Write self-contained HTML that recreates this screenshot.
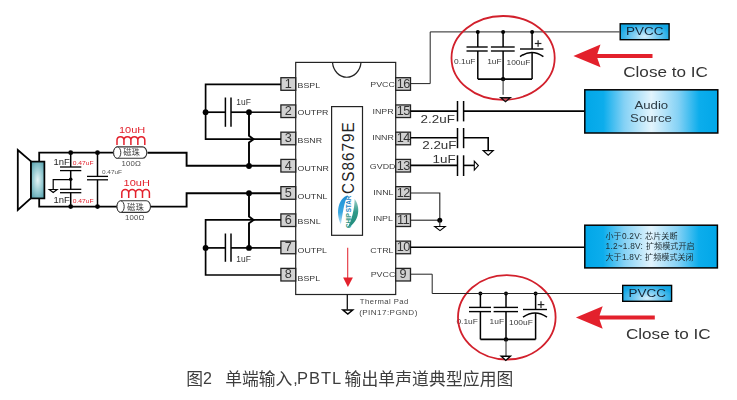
<!DOCTYPE html>
<html><head><meta charset="utf-8"><title>CS8679E</title>
<style>html,body{margin:0;padding:0;background:#fff;}body{width:737px;height:400px;overflow:hidden;font-family:"Liberation Sans",sans-serif;}svg{display:block}</style>
</head><body>
<svg width="737" height="400" viewBox="0 0 737 400">
<defs>
<linearGradient id="gb" x1="0" x2="1" y1="0" y2="0">
<stop offset="0" stop-color="#00a7e8"/><stop offset="0.14" stop-color="#0badec"/><stop offset="0.3" stop-color="#86d2f5"/><stop offset="0.5" stop-color="#e2f4fd"/><stop offset="0.7" stop-color="#86d2f5"/><stop offset="0.86" stop-color="#0badec"/><stop offset="1" stop-color="#00a7e8"/>
</linearGradient>
<radialGradient id="gp" cx="0.5" cy="0.8" r="0.62" gradientTransform="translate(0.5,0.8) scale(1,1.6) translate(-0.5,-0.8)">
<stop offset="0" stop-color="#d4eefb"/><stop offset="0.45" stop-color="#6fc8f0"/><stop offset="0.85" stop-color="#16a8e5"/><stop offset="1" stop-color="#10a5e3"/>
</radialGradient>
<linearGradient id="gs" x1="0" x2="1" y1="0" y2="0">
<stop offset="0" stop-color="#4f9fa8"/><stop offset="0.5" stop-color="#b5dde2"/><stop offset="1" stop-color="#4f9fa8"/>
</linearGradient>
<radialGradient id="gsr" cx="0.5" cy="0.5" r="0.75" gradientTransform="translate(0.5,0.5) scale(1,0.9) translate(-0.5,-0.5)">
<stop offset="0" stop-color="#e4f4f6"/><stop offset="0.55" stop-color="#8cc4cc"/><stop offset="1" stop-color="#4696a3"/>
</radialGradient>
</defs>
<rect width="737" height="400" fill="#fff"/>
<g opacity="0.996">

<rect x="295.7" y="62.4" width="100.0" height="232.1" fill="#fff" stroke="#222" stroke-width="1.2"/>
<path d="M332.5 62.4 A14.3 16.2 0 0 0 361 62.4" fill="none" stroke="#222" stroke-width="1.2"/>
<rect x="331.6" y="106.6" width="30.9" height="128.7" fill="#fff" stroke="#222" stroke-width="1.2"/>
<text transform="translate(354.1,193.9) rotate(-90) scale(0.92,1)" x="0" y="0" font-size="16.5" font-family="Liberation Sans, sans-serif" fill="#222" text-anchor="start" letter-spacing="1.2">CS8679E</text>
<defs><linearGradient id="lgb" x1="0" x2="0" y1="0" y2="1"><stop offset="0" stop-color="#1c8fd6"/><stop offset="0.6" stop-color="#3aa8e0"/><stop offset="1" stop-color="#bfe3f5"/></linearGradient>
<linearGradient id="lgg" x1="0" x2="0" y1="0" y2="1"><stop offset="0" stop-color="#9fd0c8"/><stop offset="0.45" stop-color="#2f9a8a"/><stop offset="1" stop-color="#1f8a7a"/></linearGradient></defs>
<path d="M347.8 195.2 C338.6 198 335.2 212 340.8 224.3 C342.6 215.5 343.6 203 347.8 195.2Z" fill="url(#lgb)"/>
<path d="M354.6 199 C360.6 206 360 222 347.6 227.8 C351.6 220.5 354.6 209 354.6 199Z" fill="url(#lgg)"/>
<g transform="translate(350.7,228) rotate(-90) scale(0.79,1)"><text x="0" y="0" font-size="8" font-weight="bold" font-family="Liberation Sans, sans-serif" fill="#2f9686" text-anchor="start">CHIP</text><text x="19.83" y="0" font-size="8" font-weight="bold" font-family="Liberation Sans, sans-serif" fill="#2486c4" text-anchor="start">STAR</text></g>
<line x1="347.7" y1="247.8" x2="347.7" y2="279" stroke="#e3303a" stroke-width="1.1"/>
<polygon points="343.1,277.5 352.9,277.5 347.9,287" fill="#e3202b"/>
<rect x="280.90" y="77.70" width="14.8" height="12.6" fill="#d2d2d2" stroke="#222" stroke-width="1.3"/>
<text transform="translate(288.30,87.80) scale(1.06,1)" font-size="12.0" font-family="Liberation Sans, sans-serif" fill="#333" text-anchor="middle" >1</text>
<text transform="translate(297.60,88.40) scale(1.1,1)" font-size="8.0" font-family="Liberation Sans, sans-serif" fill="#333" text-anchor="start" >BSPL</text>
<rect x="395.7" y="77.70" width="14.8" height="12.6" fill="#d2d2d2" stroke="#222" stroke-width="1.3"/>
<text transform="translate(403.20,87.80) scale(1.06,1)" font-size="12.0" font-family="Liberation Sans, sans-serif" fill="#333" text-anchor="middle" letter-spacing="-0.5" >16</text>
<text transform="translate(394.90,86.80) scale(1.11,1)" font-size="8.0" font-family="Liberation Sans, sans-serif" fill="#3c3c3c" text-anchor="end" >PVCC</text>
<rect x="280.90" y="104.94" width="14.8" height="12.6" fill="#d2d2d2" stroke="#222" stroke-width="1.3"/>
<text transform="translate(288.30,115.04) scale(1.06,1)" font-size="12.0" font-family="Liberation Sans, sans-serif" fill="#333" text-anchor="middle" >2</text>
<text transform="translate(297.60,114.94) scale(1.1,1)" font-size="8.0" font-family="Liberation Sans, sans-serif" fill="#333" text-anchor="start" >OUTPR</text>
<rect x="395.7" y="104.94" width="14.8" height="12.6" fill="#d2d2d2" stroke="#222" stroke-width="1.3"/>
<text transform="translate(403.20,115.04) scale(1.06,1)" font-size="12.0" font-family="Liberation Sans, sans-serif" fill="#333" text-anchor="middle" letter-spacing="-0.5" >15</text>
<text transform="translate(393.70,114.14) scale(1.11,1)" font-size="8.0" font-family="Liberation Sans, sans-serif" fill="#3c3c3c" text-anchor="end" >INPR</text>
<rect x="280.90" y="132.18" width="14.8" height="12.6" fill="#d2d2d2" stroke="#222" stroke-width="1.3"/>
<text transform="translate(288.30,142.28) scale(1.06,1)" font-size="12.0" font-family="Liberation Sans, sans-serif" fill="#333" text-anchor="middle" >3</text>
<text transform="translate(297.60,143.28) scale(1.1,1)" font-size="8.0" font-family="Liberation Sans, sans-serif" fill="#333" text-anchor="start" >BSNR</text>
<rect x="395.7" y="132.18" width="14.8" height="12.6" fill="#d2d2d2" stroke="#222" stroke-width="1.3"/>
<text transform="translate(403.20,142.28) scale(1.06,1)" font-size="12.0" font-family="Liberation Sans, sans-serif" fill="#333" text-anchor="middle" letter-spacing="-0.5" >14</text>
<text transform="translate(393.90,140.13) scale(1.11,1)" font-size="8.0" font-family="Liberation Sans, sans-serif" fill="#3c3c3c" text-anchor="end" >INNR</text>
<rect x="280.90" y="159.42" width="14.8" height="12.6" fill="#d2d2d2" stroke="#222" stroke-width="1.3"/>
<text transform="translate(288.30,169.52) scale(1.06,1)" font-size="12.0" font-family="Liberation Sans, sans-serif" fill="#333" text-anchor="middle" >4</text>
<text transform="translate(297.60,170.92) scale(1.1,1)" font-size="8.0" font-family="Liberation Sans, sans-serif" fill="#333" text-anchor="start" >OUTNR</text>
<rect x="395.7" y="159.42" width="14.8" height="12.6" fill="#d2d2d2" stroke="#222" stroke-width="1.3"/>
<text transform="translate(403.20,169.52) scale(1.06,1)" font-size="12.0" font-family="Liberation Sans, sans-serif" fill="#333" text-anchor="middle" letter-spacing="-0.5" >13</text>
<text transform="translate(395.50,168.72) scale(1.11,1)" font-size="8.0" font-family="Liberation Sans, sans-serif" fill="#3c3c3c" text-anchor="end" >GVDD</text>
<rect x="280.90" y="186.66" width="14.8" height="12.6" fill="#d2d2d2" stroke="#222" stroke-width="1.3"/>
<text transform="translate(288.30,196.76) scale(1.06,1)" font-size="12.0" font-family="Liberation Sans, sans-serif" fill="#333" text-anchor="middle" >5</text>
<text transform="translate(297.60,198.86) scale(1.1,1)" font-size="8.0" font-family="Liberation Sans, sans-serif" fill="#333" text-anchor="start" >OUTNL</text>
<rect x="395.7" y="186.66" width="14.8" height="12.6" fill="#d2d2d2" stroke="#222" stroke-width="1.3"/>
<text transform="translate(403.20,196.76) scale(1.06,1)" font-size="12.0" font-family="Liberation Sans, sans-serif" fill="#333" text-anchor="middle" letter-spacing="-0.5" >12</text>
<text transform="translate(393.50,195.06) scale(1.11,1)" font-size="8.0" font-family="Liberation Sans, sans-serif" fill="#3c3c3c" text-anchor="end" >INNL</text>
<rect x="280.90" y="213.90" width="14.8" height="12.6" fill="#d2d2d2" stroke="#222" stroke-width="1.3"/>
<text transform="translate(288.30,224.00) scale(1.06,1)" font-size="12.0" font-family="Liberation Sans, sans-serif" fill="#333" text-anchor="middle" >6</text>
<text transform="translate(297.60,224.05) scale(1.1,1)" font-size="8.0" font-family="Liberation Sans, sans-serif" fill="#333" text-anchor="start" >BSNL</text>
<rect x="395.7" y="213.90" width="14.8" height="12.6" fill="#d2d2d2" stroke="#222" stroke-width="1.3"/>
<text transform="translate(403.20,224.00) scale(1.06,1)" font-size="12.0" font-family="Liberation Sans, sans-serif" fill="#333" text-anchor="middle" letter-spacing="-0.5" >11</text>
<text transform="translate(392.90,221.00) scale(1.11,1)" font-size="8.0" font-family="Liberation Sans, sans-serif" fill="#3c3c3c" text-anchor="end" >INPL</text>
<rect x="280.90" y="241.14" width="14.8" height="12.6" fill="#d2d2d2" stroke="#222" stroke-width="1.3"/>
<text transform="translate(288.30,251.24) scale(1.06,1)" font-size="12.0" font-family="Liberation Sans, sans-serif" fill="#333" text-anchor="middle" >7</text>
<text transform="translate(297.60,252.54) scale(1.1,1)" font-size="8.0" font-family="Liberation Sans, sans-serif" fill="#333" text-anchor="start" >OUTPL</text>
<rect x="395.7" y="241.14" width="14.8" height="12.6" fill="#d2d2d2" stroke="#222" stroke-width="1.3"/>
<text transform="translate(403.20,251.24) scale(1.06,1)" font-size="12.0" font-family="Liberation Sans, sans-serif" fill="#333" text-anchor="middle" letter-spacing="-0.5" >10</text>
<text transform="translate(393.50,252.64) scale(1.11,1)" font-size="8.0" font-family="Liberation Sans, sans-serif" fill="#3c3c3c" text-anchor="end" >CTRL</text>
<rect x="280.90" y="268.38" width="14.8" height="12.6" fill="#d2d2d2" stroke="#222" stroke-width="1.3"/>
<text transform="translate(288.30,278.48) scale(1.06,1)" font-size="12.0" font-family="Liberation Sans, sans-serif" fill="#333" text-anchor="middle" >8</text>
<text transform="translate(297.60,280.78) scale(1.1,1)" font-size="8.0" font-family="Liberation Sans, sans-serif" fill="#333" text-anchor="start" >BSPL</text>
<rect x="395.7" y="268.38" width="14.8" height="12.6" fill="#d2d2d2" stroke="#222" stroke-width="1.3"/>
<text transform="translate(403.10,278.48) scale(1.06,1)" font-size="12.0" font-family="Liberation Sans, sans-serif" fill="#333" text-anchor="middle" >9</text>
<text transform="translate(395.30,276.68) scale(1.11,1)" font-size="8.0" font-family="Liberation Sans, sans-serif" fill="#3c3c3c" text-anchor="end" >PVCC</text>
<line x1="347.3" y1="294.4" x2="347.3" y2="309.6" stroke="#111" stroke-width="1.3"/>
<polygon points="342.9,310 352.7,310 347.8,314.1" fill="#fff" stroke="#000" stroke-width="1.5"/>
<text x="359.8" y="304.3" font-size="7.7" font-family="Liberation Sans, sans-serif" fill="#444" text-anchor="start" letter-spacing="0.45" >Thermal Pad</text>
<text x="359.2" y="315.3" font-size="8.1" font-family="Liberation Sans, sans-serif" fill="#444" text-anchor="start" letter-spacing="0.42" >(PIN17:PGND)</text>
<polyline points="280.9,84.4 205.6,84.4 205.6,139.2 280.9,139.2" fill="none" stroke="#000" stroke-width="1.7" stroke-linejoin="miter"/>
<line x1="205.6" y1="112.2" x2="225.4" y2="112.2" stroke="#000" stroke-width="1.7"/>
<line x1="231" y1="112.2" x2="249" y2="112.2" stroke="#000" stroke-width="1.7"/>
<line x1="249" y1="112.2" x2="280.9" y2="112.2" stroke="#000" stroke-width="1.5"/>
<line x1="225.4" y1="97.5" x2="225.4" y2="126.8" stroke="#000" stroke-width="1.5"/>
<line x1="231" y1="97.5" x2="231" y2="126.8" stroke="#000" stroke-width="1.5"/>
<circle cx="205.6" cy="112.2" r="2.9" fill="#000"/>
<circle cx="249" cy="112.2" r="2.9" fill="#000"/>
<path d="M249 112.2 V135.8 L253.6 139.2 L249 142.6 V166" fill="none" stroke="#000" stroke-width="1.9"/>
<circle cx="249" cy="166" r="2.9" fill="#000"/>
<text x="236.3" y="105.2" font-size="8.4" font-family="Liberation Sans, sans-serif" fill="#333" text-anchor="start" >1uF</text>
<polyline points="147.5,152.7 186.6,152.7 186.6,165.8 280.9,165.8" fill="none" stroke="#000" stroke-width="1.9" stroke-linejoin="miter"/>
<polyline points="151,206.6 186.6,206.6 186.6,193.3 280.9,193.3" fill="none" stroke="#000" stroke-width="1.9" stroke-linejoin="miter"/>
<circle cx="249" cy="193.2" r="2.9" fill="#000"/>
<path d="M249 193.2 V216.5 L253.6 219.9 L249 223.3 V247.9" fill="none" stroke="#000" stroke-width="1.9"/>
<circle cx="249" cy="247.9" r="2.9" fill="#000"/>
<polyline points="280.9,219.9 205.6,219.9 205.6,275 280.9,275" fill="none" stroke="#000" stroke-width="1.7" stroke-linejoin="miter"/>
<line x1="205.6" y1="247.9" x2="225.4" y2="247.9" stroke="#000" stroke-width="1.7"/>
<line x1="231" y1="247.9" x2="249" y2="247.9" stroke="#000" stroke-width="1.7"/>
<line x1="249" y1="247.9" x2="280.9" y2="247.9" stroke="#000" stroke-width="1.7"/>
<line x1="225.4" y1="233.5" x2="225.4" y2="261.8" stroke="#000" stroke-width="1.5"/>
<line x1="231" y1="233.5" x2="231" y2="261.8" stroke="#000" stroke-width="1.5"/>
<circle cx="205.6" cy="247.9" r="2.9" fill="#000"/>
<text x="236.3" y="261.8" font-size="8.4" font-family="Liberation Sans, sans-serif" fill="#333" text-anchor="start" >1uF</text>
<polygon points="17.8,150 31,161.3 31,198.2 17.8,210" fill="#fff" stroke="#000" stroke-width="1.8"/>
<rect x="31" y="161.6" width="13.4" height="36.8" fill="url(#gsr)" stroke="#000" stroke-width="1.7"/>
<polyline points="39.2,161.6 39.2,152.7 113.6,152.7" fill="none" stroke="#000" stroke-width="1.8" stroke-linejoin="miter"/>
<polyline points="39.2,198.4 39.2,206.6 117,206.6" fill="none" stroke="#000" stroke-width="1.8" stroke-linejoin="miter"/>
<line x1="70.7" y1="152.7" x2="70.7" y2="167" stroke="#000" stroke-width="1.5"/>
<line x1="70.7" y1="170.6" x2="70.7" y2="189.3" stroke="#000" stroke-width="1.5"/>
<line x1="70.7" y1="192.7" x2="70.7" y2="206.6" stroke="#000" stroke-width="1.5"/>
<line x1="60" y1="167" x2="81.3" y2="167" stroke="#000" stroke-width="1.3"/>
<line x1="60" y1="170.6" x2="81.3" y2="170.6" stroke="#000" stroke-width="1.3"/>
<line x1="60" y1="189.3" x2="81.3" y2="189.3" stroke="#000" stroke-width="1.3"/>
<line x1="60" y1="192.7" x2="81.3" y2="192.7" stroke="#000" stroke-width="1.3"/>
<circle cx="70.7" cy="152.7" r="2.4" fill="#000"/>
<circle cx="70.7" cy="206.6" r="2.4" fill="#000"/>
<circle cx="70.7" cy="179.3" r="1.8" fill="#000"/>
<polyline points="70.7,179.7 53.2,179.7 53.2,189.4" fill="none" stroke="#000" stroke-width="1.2" stroke-linejoin="miter"/>
<polygon points="49.3,189.5 57.1,189.5 53.2,192.5" fill="#fff" stroke="#000" stroke-width="1.2"/>
<line x1="97.5" y1="152.7" x2="97.5" y2="176.4" stroke="#000" stroke-width="1.5"/>
<line x1="97.5" y1="179.8" x2="97.5" y2="206.6" stroke="#000" stroke-width="1.5"/>
<line x1="87" y1="176.4" x2="108" y2="176.4" stroke="#000" stroke-width="1.3"/>
<line x1="87" y1="179.8" x2="108" y2="179.8" stroke="#000" stroke-width="1.3"/>
<circle cx="97.5" cy="152.7" r="2.4" fill="#000"/>
<circle cx="97.5" cy="206.6" r="2.4" fill="#000"/>
<text transform="translate(53.6,164.8) scale(1.1,1)" font-size="8.6" font-family="Liberation Sans, sans-serif" fill="#222" text-anchor="start" >1nF</text>
<text transform="translate(53.6,202.7) scale(1.1,1)" font-size="8.6" font-family="Liberation Sans, sans-serif" fill="#222" text-anchor="start" >1nF</text>
<text transform="translate(72.7,165.0) scale(1.12,1)" font-size="6.0" font-family="Liberation Sans, sans-serif" fill="#e3202b" text-anchor="start" >0.47uF</text>
<text transform="translate(72.7,202.9) scale(1.12,1)" font-size="6.0" font-family="Liberation Sans, sans-serif" fill="#e3202b" text-anchor="start" >0.47uF</text>
<text transform="translate(101.9,174.2) scale(1.08,1)" font-size="6.0" font-family="Liberation Sans, sans-serif" fill="#555" text-anchor="start" >0.47uF</text>
<rect x="113.6" y="146.9" width="33.20000000000002" height="11.4" rx="4.275" ry="5.7" fill="#fff" stroke="#333" stroke-width="1.1"/>
<ellipse cx="117.19999999999999" cy="152.6" rx="3.6" ry="5.7" fill="#fff" stroke="#333" stroke-width="1.0"/>
<rect x="117" y="200.79999999999998" width="33.5" height="11.6" rx="4.35" ry="5.8" fill="#fff" stroke="#333" stroke-width="1.1"/>
<ellipse cx="120.6" cy="206.6" rx="3.6" ry="5.8" fill="#fff" stroke="#333" stroke-width="1.0"/>
<text x="123.3" y="155.4" font-size="8.3" font-family="Liberation Sans, Noto Sans CJK SC, sans-serif" fill="#444" text-anchor="start">磁珠</text>
<text x="127.1" y="209.5" font-size="8.3" font-family="Liberation Sans, Noto Sans CJK SC, sans-serif" fill="#444" text-anchor="start">磁珠</text>
<text transform="translate(121.5,166.1) scale(1.1,1)" font-size="7.1" font-family="Liberation Sans, sans-serif" fill="#4a4a4a" text-anchor="start" letter-spacing="0.15" >100Ω</text>
<text transform="translate(125.0,219.9) scale(1.1,1)" font-size="7.1" font-family="Liberation Sans, sans-serif" fill="#4a4a4a" text-anchor="start" letter-spacing="0.15" >100Ω</text>
<text transform="translate(119.0,133.0) scale(1.17,1)" font-size="9.4" font-family="Liberation Sans, sans-serif" fill="#e3202b" text-anchor="start" >10uH</text>
<text transform="translate(123.6,185.9) scale(1.17,1)" font-size="9.4" font-family="Liberation Sans, sans-serif" fill="#e3202b" text-anchor="start" >10uH</text>
<path d="M117.00 145.1 V139.97 A3.48 3.48 0 0 1 123.95 139.97 V145.1M123.95 145.1 V139.97 A3.48 3.48 0 0 1 130.90 139.97 V145.1M130.90 145.1 V139.97 A3.48 3.48 0 0 1 137.85 139.97 V145.1M137.85 145.1 V139.97 A3.48 3.48 0 0 1 144.80 139.97 V145.1" fill="none" stroke="#e3202b" stroke-width="1.5"/>
<path d="M121.80 198.0 V192.85 A3.45 3.45 0 0 1 128.70 192.85 V198.0M128.70 198.0 V192.85 A3.45 3.45 0 0 1 135.60 192.85 V198.0M135.60 198.0 V192.85 A3.45 3.45 0 0 1 142.50 192.85 V198.0M142.50 198.0 V192.85 A3.45 3.45 0 0 1 149.40 192.85 V198.0" fill="none" stroke="#e3202b" stroke-width="1.5"/>
<polyline points="410.5,83.6 430.2,83.6 430.2,31.9 619.5,31.9" fill="none" stroke="#222" stroke-width="1.0" stroke-linejoin="miter"/>
<line x1="477.8" y1="31.9" x2="477.8" y2="47" stroke="#000" stroke-width="1.5"/>
<line x1="477.8" y1="51" x2="477.8" y2="79.1" stroke="#000" stroke-width="1.5"/>
<line x1="503.1" y1="31.9" x2="503.1" y2="47" stroke="#000" stroke-width="1.5"/>
<line x1="503.1" y1="51" x2="503.1" y2="79.1" stroke="#000" stroke-width="1.5"/>
<line x1="532.1" y1="31.9" x2="532.1" y2="49.0" stroke="#000" stroke-width="1.5"/>
<line x1="532.1" y1="52.6" x2="532.1" y2="79.1" stroke="#000" stroke-width="1.5"/>
<line x1="466.5" y1="47" x2="487.7" y2="47" stroke="#000" stroke-width="1.4"/>
<line x1="466.5" y1="51" x2="487.7" y2="51" stroke="#000" stroke-width="1.4"/>
<line x1="490.9" y1="47" x2="514.7" y2="47" stroke="#000" stroke-width="1.4"/>
<line x1="490.9" y1="51" x2="514.7" y2="51" stroke="#000" stroke-width="1.4"/>
<line x1="520" y1="49.0" x2="543.4" y2="49.0" stroke="#000" stroke-width="1.4"/>
<path d="M520 56.60 Q531.7 48.40 543.4 56.60" fill="none" stroke="#000" stroke-width="1.4"/>
<line x1="477.8" y1="79.1" x2="532.1" y2="79.1" stroke="#000" stroke-width="1.6"/>
<circle cx="477.8" cy="31.9" r="2.0" fill="#000"/>
<circle cx="503.1" cy="31.9" r="2.0" fill="#000"/>
<circle cx="532.1" cy="31.9" r="2.0" fill="#000"/>
<circle cx="503.1" cy="79.1" r="2.2" fill="#000"/>
<line x1="503.1" y1="79.1" x2="503.1" y2="94.8" stroke="#222" stroke-width="1.0"/>
<text transform="translate(454,63.7) scale(1.08,1)" font-size="7.8" font-family="Liberation Sans, sans-serif" fill="#383838" text-anchor="start" >0.1uF</text>
<text transform="translate(487.2,63.7) scale(1.08,1)" font-size="7.8" font-family="Liberation Sans, sans-serif" fill="#383838" text-anchor="start" >1uF</text>
<text transform="translate(506.5,64.7) scale(1.08,1)" font-size="7.8" font-family="Liberation Sans, sans-serif" fill="#383838" text-anchor="start" >100uF</text>
<line x1="534.8000000000001" y1="43.5" x2="541.4" y2="43.5" stroke="#222" stroke-width="1.2"/>
<line x1="538.1" y1="40.2" x2="538.1" y2="46.8" stroke="#222" stroke-width="1.2"/>
<ellipse cx="503.1" cy="57.9" rx="51.6" ry="41.9" fill="none" stroke="#d21f2b" stroke-width="1.8"/>
<polygon points="500.8,97.7 510.2,97.7 505.5,101.7" fill="#d8505e" stroke="#111" stroke-width="1.4"/>
<line x1="480.4" y1="293.4" x2="480.4" y2="307.4" stroke="#000" stroke-width="1.5"/>
<line x1="480.4" y1="311.6" x2="480.4" y2="339.4" stroke="#000" stroke-width="1.5"/>
<line x1="506" y1="293.4" x2="506" y2="307.4" stroke="#000" stroke-width="1.5"/>
<line x1="506" y1="311.6" x2="506" y2="339.4" stroke="#000" stroke-width="1.5"/>
<line x1="535.6" y1="293.4" x2="535.6" y2="309.5" stroke="#000" stroke-width="1.5"/>
<line x1="535.6" y1="313.1" x2="535.6" y2="339.4" stroke="#000" stroke-width="1.5"/>
<line x1="469" y1="307.4" x2="491" y2="307.4" stroke="#000" stroke-width="1.4"/>
<line x1="469" y1="311.6" x2="491" y2="311.6" stroke="#000" stroke-width="1.4"/>
<line x1="493.6" y1="307.4" x2="518" y2="307.4" stroke="#000" stroke-width="1.4"/>
<line x1="493.6" y1="311.6" x2="518" y2="311.6" stroke="#000" stroke-width="1.4"/>
<line x1="523" y1="309.5" x2="547" y2="309.5" stroke="#000" stroke-width="1.4"/>
<path d="M523 317.10 Q535.0 308.90 547 317.10" fill="none" stroke="#000" stroke-width="1.4"/>
<line x1="480.4" y1="339.4" x2="535.6" y2="339.4" stroke="#000" stroke-width="1.6"/>
<circle cx="480.4" cy="293.4" r="2.0" fill="#000"/>
<circle cx="506" cy="293.4" r="2.0" fill="#000"/>
<circle cx="535.6" cy="293.4" r="2.0" fill="#000"/>
<circle cx="506" cy="339.4" r="2.2" fill="#000"/>
<line x1="506" y1="339.4" x2="506" y2="356" stroke="#222" stroke-width="1.0"/>
<text transform="translate(456.4,324) scale(1.08,1)" font-size="7.8" font-family="Liberation Sans, sans-serif" fill="#383838" text-anchor="start" >0.1uF</text>
<text transform="translate(489.6,324) scale(1.08,1)" font-size="7.8" font-family="Liberation Sans, sans-serif" fill="#383838" text-anchor="start" >1uF</text>
<text transform="translate(509,325) scale(1.08,1)" font-size="7.8" font-family="Liberation Sans, sans-serif" fill="#383838" text-anchor="start" >100uF</text>
<line x1="537.7" y1="304.6" x2="544.3" y2="304.6" stroke="#222" stroke-width="1.2"/>
<line x1="541" y1="301.3" x2="541" y2="307.90000000000003" stroke="#222" stroke-width="1.2"/>
<ellipse cx="506.8" cy="317.3" rx="48.8" ry="42.2" fill="none" stroke="#d21f2b" stroke-width="1.8"/>
<polygon points="501.2,356.3 510.4,356.3 505.8,360.4" fill="#fff" stroke="#000" stroke-width="1.4"/>
<polyline points="410.5,274.2 432.2,274.2 432.2,293.5 622,293.5" fill="none" stroke="#222" stroke-width="1.0" stroke-linejoin="miter"/>
<rect x="620.2" y="23.8" width="48.9" height="15.9" fill="url(#gp)" stroke="#000" stroke-width="1.4"/>
<text transform="translate(644.7,34.8) scale(1.17,1)" font-size="11.5" font-family="Liberation Sans, sans-serif" fill="#123" text-anchor="middle" >PVCC</text>
<rect x="622.7" y="285.4" width="48.9" height="15.9" fill="url(#gp)" stroke="#000" stroke-width="1.4"/>
<text transform="translate(647.2,296.5) scale(1.17,1)" font-size="11.5" font-family="Liberation Sans, sans-serif" fill="#123" text-anchor="middle" >PVCC</text>
<polygon points="573.4,55.95 600.5,44.550000000000004 597.3,53.900000000000006 652.5,53.900000000000006 652.5,58.0 597.3,58.0 600.5,67.35000000000001" fill="#e3202b"/>
<polygon points="575.9,317.5 602.7,306.2 599.5,315.45 654.8,315.45 654.8,319.55 599.5,319.55 602.7,328.8" fill="#e3202b"/>
<text transform="translate(623.2,76.7) scale(1.15,1)" font-size="14.9" font-family="Liberation Sans, sans-serif" fill="#333" text-anchor="start" >Close to IC</text>
<text transform="translate(625.9,339.0) scale(1.15,1)" font-size="14.9" font-family="Liberation Sans, sans-serif" fill="#333" text-anchor="start" >Close to IC</text>
<line x1="410.5" y1="111.1" x2="457.5" y2="111.1" stroke="#000" stroke-width="1.6"/>
<line x1="457.5" y1="101" x2="457.5" y2="121.4" stroke="#000" stroke-width="1.5"/>
<line x1="463.6" y1="101" x2="463.6" y2="121.4" stroke="#000" stroke-width="1.5"/>
<line x1="463.6" y1="111.1" x2="584.5" y2="111.1" stroke="#000" stroke-width="1.6"/>
<text transform="translate(420.6,123.4) scale(1.19,1)" font-size="11.3" font-family="Liberation Sans, sans-serif" fill="#333" text-anchor="start" >2.2uF</text>
<line x1="410.5" y1="137.7" x2="457.5" y2="137.7" stroke="#000" stroke-width="1.6"/>
<line x1="457.5" y1="128" x2="457.5" y2="148.2" stroke="#000" stroke-width="1.5"/>
<line x1="463.6" y1="128" x2="463.6" y2="148.2" stroke="#000" stroke-width="1.5"/>
<polyline points="463.6,137.7 488.2,137.7 488.2,150.6" fill="none" stroke="#000" stroke-width="1.6" stroke-linejoin="miter"/>
<polygon points="483.2,150.7 493.2,150.7 488.2,155.3" fill="#fff" stroke="#000" stroke-width="1.2"/>
<text transform="translate(422.2,148.9) scale(1.19,1)" font-size="11.3" font-family="Liberation Sans, sans-serif" fill="#333" text-anchor="start" >2.2uF</text>
<line x1="410.5" y1="165.4" x2="457.5" y2="165.4" stroke="#000" stroke-width="1.6"/>
<line x1="457.5" y1="155.3" x2="457.5" y2="176" stroke="#000" stroke-width="1.5"/>
<line x1="463.6" y1="155.3" x2="463.6" y2="176" stroke="#000" stroke-width="1.5"/>
<line x1="463.6" y1="165.4" x2="474" y2="165.4" stroke="#000" stroke-width="1.6"/>
<polygon points="474.3,161.2 474.3,170 478.4,165.6" fill="#fff" stroke="#000" stroke-width="1.1"/>
<text transform="translate(432.6,163.3) scale(1.19,1)" font-size="11.3" font-family="Liberation Sans, sans-serif" fill="#333" text-anchor="start" >1uF</text>
<polyline points="410.5,193 439.8,193 439.8,220.2" fill="none" stroke="#222" stroke-width="1.1" stroke-linejoin="miter"/>
<line x1="410.5" y1="220.2" x2="439.8" y2="220.2" stroke="#222" stroke-width="1.1"/>
<circle cx="439.8" cy="220.2" r="2.5" fill="#000"/>
<line x1="439.8" y1="220.2" x2="439.8" y2="226.4" stroke="#222" stroke-width="1.1"/>
<polygon points="434.7,226.5 445.3,226.5 440,230.6" fill="#fff" stroke="#000" stroke-width="1.1"/>
<line x1="410.5" y1="247.2" x2="584.5" y2="247.2" stroke="#000" stroke-width="1.6"/>
<rect x="584.8" y="89.8" width="133" height="43.2" fill="url(#gb)" stroke="#000" stroke-width="1.5"/>
<text transform="translate(651.3,108.5) scale(1.17,1)" font-size="11.3" font-family="Liberation Sans, sans-serif" fill="#2a3a44" text-anchor="middle" >Audio</text>
<text transform="translate(651.0,121.8) scale(1.17,1)" font-size="11.3" font-family="Liberation Sans, sans-serif" fill="#2a3a44" text-anchor="middle" >Source</text>
<rect x="584.8" y="225.2" width="132.6" height="42.7" fill="url(#gb)" stroke="#000" stroke-width="1.5"/>
<text x="622.00" y="238.7" font-size="8.3" font-family="Liberation Sans, sans-serif" fill="#1c2a30" letter-spacing="0.22" style="white-space:pre">0.2V: </text>
<text x="605.6" y="238.7" font-size="8" font-family="Liberation Sans, Noto Sans CJK SC, sans-serif" fill="#1c2a30" text-anchor="start">小于</text>
<text x="645.1" y="238.7" font-size="8.1" font-family="Liberation Sans, Noto Sans CJK SC, sans-serif" fill="#1c2a30" text-anchor="start">芯片关断</text>
<text x="605.60" y="249.4" font-size="8.3" font-family="Liberation Sans, sans-serif" fill="#1c2a30" letter-spacing="0.22" style="white-space:pre">1.2~1.8V: </text>
<text x="646.0" y="249.4" font-size="8.1" font-family="Liberation Sans, Noto Sans CJK SC, sans-serif" fill="#1c2a30" text-anchor="start">扩频模式开启</text>
<text x="622.00" y="259.9" font-size="8.3" font-family="Liberation Sans, sans-serif" fill="#1c2a30" letter-spacing="0.22" style="white-space:pre">1.8V: </text>
<text x="605.6" y="259.9" font-size="8" font-family="Liberation Sans, Noto Sans CJK SC, sans-serif" fill="#1c2a30" text-anchor="start">大于</text>
<text x="645.1" y="259.9" font-size="8.1" font-family="Liberation Sans, Noto Sans CJK SC, sans-serif" fill="#1c2a30" text-anchor="start">扩频模式关闭</text>
<text x="186.2" y="384.6" font-size="16.8" font-family="Liberation Sans, Noto Sans CJK SC, sans-serif" fill="#3c3c3c" text-anchor="start">图</text>
<text x="203.0" y="384.0" font-size="16" font-family="Liberation Sans, sans-serif" fill="#3c3c3c" text-anchor="start" >2</text>
<text x="225.2" y="384.6" font-size="16.8" font-family="Liberation Sans, Noto Sans CJK SC, sans-serif" fill="#3c3c3c" text-anchor="start">单端输入</text>
<text x="293.2" y="384.0" font-size="16" font-family="Liberation Sans, sans-serif" fill="#3c3c3c" text-anchor="start" >,</text>
<text x="296.9" y="384.0" font-size="16.5" font-family="Liberation Sans, sans-serif" fill="#3c3c3c" text-anchor="start" letter-spacing="1.0" >PBTL</text>
<text x="344.6" y="384.6" font-size="16.8" font-family="Liberation Sans, Noto Sans CJK SC, sans-serif" fill="#3c3c3c" text-anchor="start" letter-spacing="0.1">输出单声道典型应用图</text>
</g></svg>
</body></html>
